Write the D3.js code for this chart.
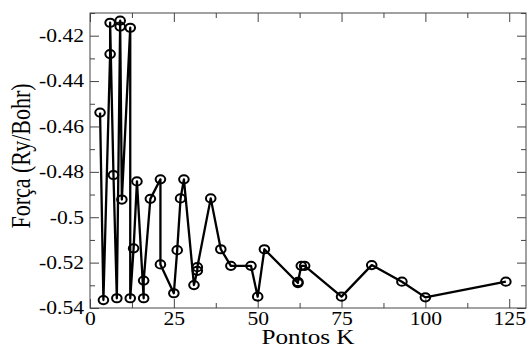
<!DOCTYPE html>
<html>
<head>
<meta charset="utf-8">
<script src="https://cdn.jsdelivr.net/npm/d3@7"></script>
<style>
  body { margin: 0; background: #fff; }
  text { font-family: "Liberation Serif", "DejaVu Serif", serif; fill: #000; }
</style>
</head>
<body>
<svg width="528" height="349"></svg>
<script>
// k-points and force values, in plotting order
var kpoints = [3, 4, 6, 6, 7, 8, 9, 9, 9.5, 12, 12, 13, 14, 16, 16, 18, 21, 21, 25, 26,
               27, 28, 31, 32, 32, 36, 39, 42, 48, 50, 52, 62, 62, 63, 64, 75, 84, 93, 100, 124];
var forces = [-0.4539, -0.5365, -0.4281, -0.4143, -0.4814, -0.5357, -0.4134, -0.4160, -0.4922, -0.4165,
              -0.5357, -0.5137, -0.4842, -0.5357, -0.5279, -0.4919, -0.4833, -0.5208, -0.5335, -0.5145,
              -0.4917, -0.4833, -0.5299, -0.5236, -0.5220, -0.4917, -0.5141, -0.5214, -0.5214, -0.5350,
              -0.5141, -0.5290, -0.5285, -0.5214, -0.5214, -0.5350, -0.5211, -0.5284, -0.5353, -0.5284];
var xTicks = [0, 25, 50, 75, 100, 125];
var yTicks = [-0.54, -0.52, -0.5, -0.48, -0.46, -0.44, -0.42];

var svg = d3.select("svg"),
    margin = {top: 13, right: 2, bottom: 41, left: 90},
    width = +svg.attr("width") - margin.left - margin.right,
    height = +svg.attr("height") - margin.top - margin.bottom;

// the original picture is a bit wider than tall, so text is stretched sideways
var stretch = 1.2;

var x = d3.scaleLinear().domain([0, 130]).range([0, width]);
var y = d3.scaleLinear().domain([-0.54, -0.41]).range([height, 0]);

var g = svg.append("g").attr("transform", "translate(" + margin.left + "," + margin.top + ")");

var fmt = function(d) { return String(+d.toFixed(2)); };
var xMinor = d3.range(12.5, 130, 25);
var yMinor = d3.range(-0.53, -0.41, 0.02);

// axes with inward ticks on all four sides
function styleAxis(sel) {
  sel.select(".domain").remove();
  sel.selectAll(".tick line").attr("stroke", "#444");
  sel.selectAll("text")
    .attr("font-size", 18)
    .attr("fill", "#000")
    .attr("transform", "scale(" + stretch + ",1)");
}

g.append("g").attr("transform", "translate(0," + height + ")")
  .call(d3.axisBottom(x).tickValues(xTicks).tickSize(-9).tickPadding(4).tickFormat(fmt))
  .call(styleAxis);
g.append("g").attr("transform", "translate(0," + height + ")")
  .call(d3.axisBottom(x).tickValues(xMinor).tickSize(-5).tickFormat(""))
  .call(styleAxis);
g.append("g")
  .call(d3.axisTop(x).tickValues(xTicks).tickSize(-9).tickFormat(""))
  .call(styleAxis);
g.append("g")
  .call(d3.axisTop(x).tickValues(xMinor).tickSize(-5).tickFormat(""))
  .call(styleAxis);

g.append("g")
  .call(d3.axisLeft(y).tickValues(yTicks).tickSize(-9).tickPadding(5).tickFormat(fmt))
  .call(styleAxis);
g.append("g")
  .call(d3.axisLeft(y).tickValues(yMinor).tickSize(-5).tickFormat(""))
  .call(styleAxis);
g.append("g").attr("transform", "translate(" + width + ",0)")
  .call(d3.axisRight(y).tickValues(yTicks).tickSize(-9).tickFormat(""))
  .call(styleAxis);
g.append("g").attr("transform", "translate(" + width + ",0)")
  .call(d3.axisRight(y).tickValues(yMinor).tickSize(-5).tickFormat(""))
  .call(styleAxis);

// frame
g.append("rect")
  .attr("x", 0).attr("y", 0)
  .attr("width", width).attr("height", height)
  .attr("fill", "none").attr("stroke", "#444").attr("stroke-width", 1);

// data line
var pts = kpoints.map(function(k, i) { return [k, forces[i]]; });
var line = d3.line().x(function(d) { return x(d[0]); }).y(function(d) { return y(d[1]); });

g.append("path")
  .datum(pts)
  .attr("d", line)
  .attr("fill", "none")
  .attr("stroke", "#000")
  .attr("stroke-width", 2.3)
  .attr("stroke-linejoin", "round");

g.selectAll("ellipse")
  .data(pts)
  .enter().append("ellipse")
    .attr("cx", function(d) { return x(d[0]); })
    .attr("cy", function(d) { return y(d[1]); })
    .attr("rx", 4.8)
    .attr("ry", 4.1)
    .attr("fill", "none")
    .attr("stroke", "#000")
    .attr("stroke-width", 2);

// axis titles
svg.append("text")
  .attr("transform", "translate(" + (margin.left + width / 2) + ",344) scale(" + stretch + ",1)")
  .attr("text-anchor", "middle")
  .attr("font-size", 21)
  .text("Pontos K");

svg.append("text")
  .attr("transform", "translate(30,156) scale(" + stretch + ",1) rotate(-90)")
  .attr("text-anchor", "middle")
  .attr("font-size", 22)
  .text("Força (Ry/Bohr)");
</script>
</body>
</html>
